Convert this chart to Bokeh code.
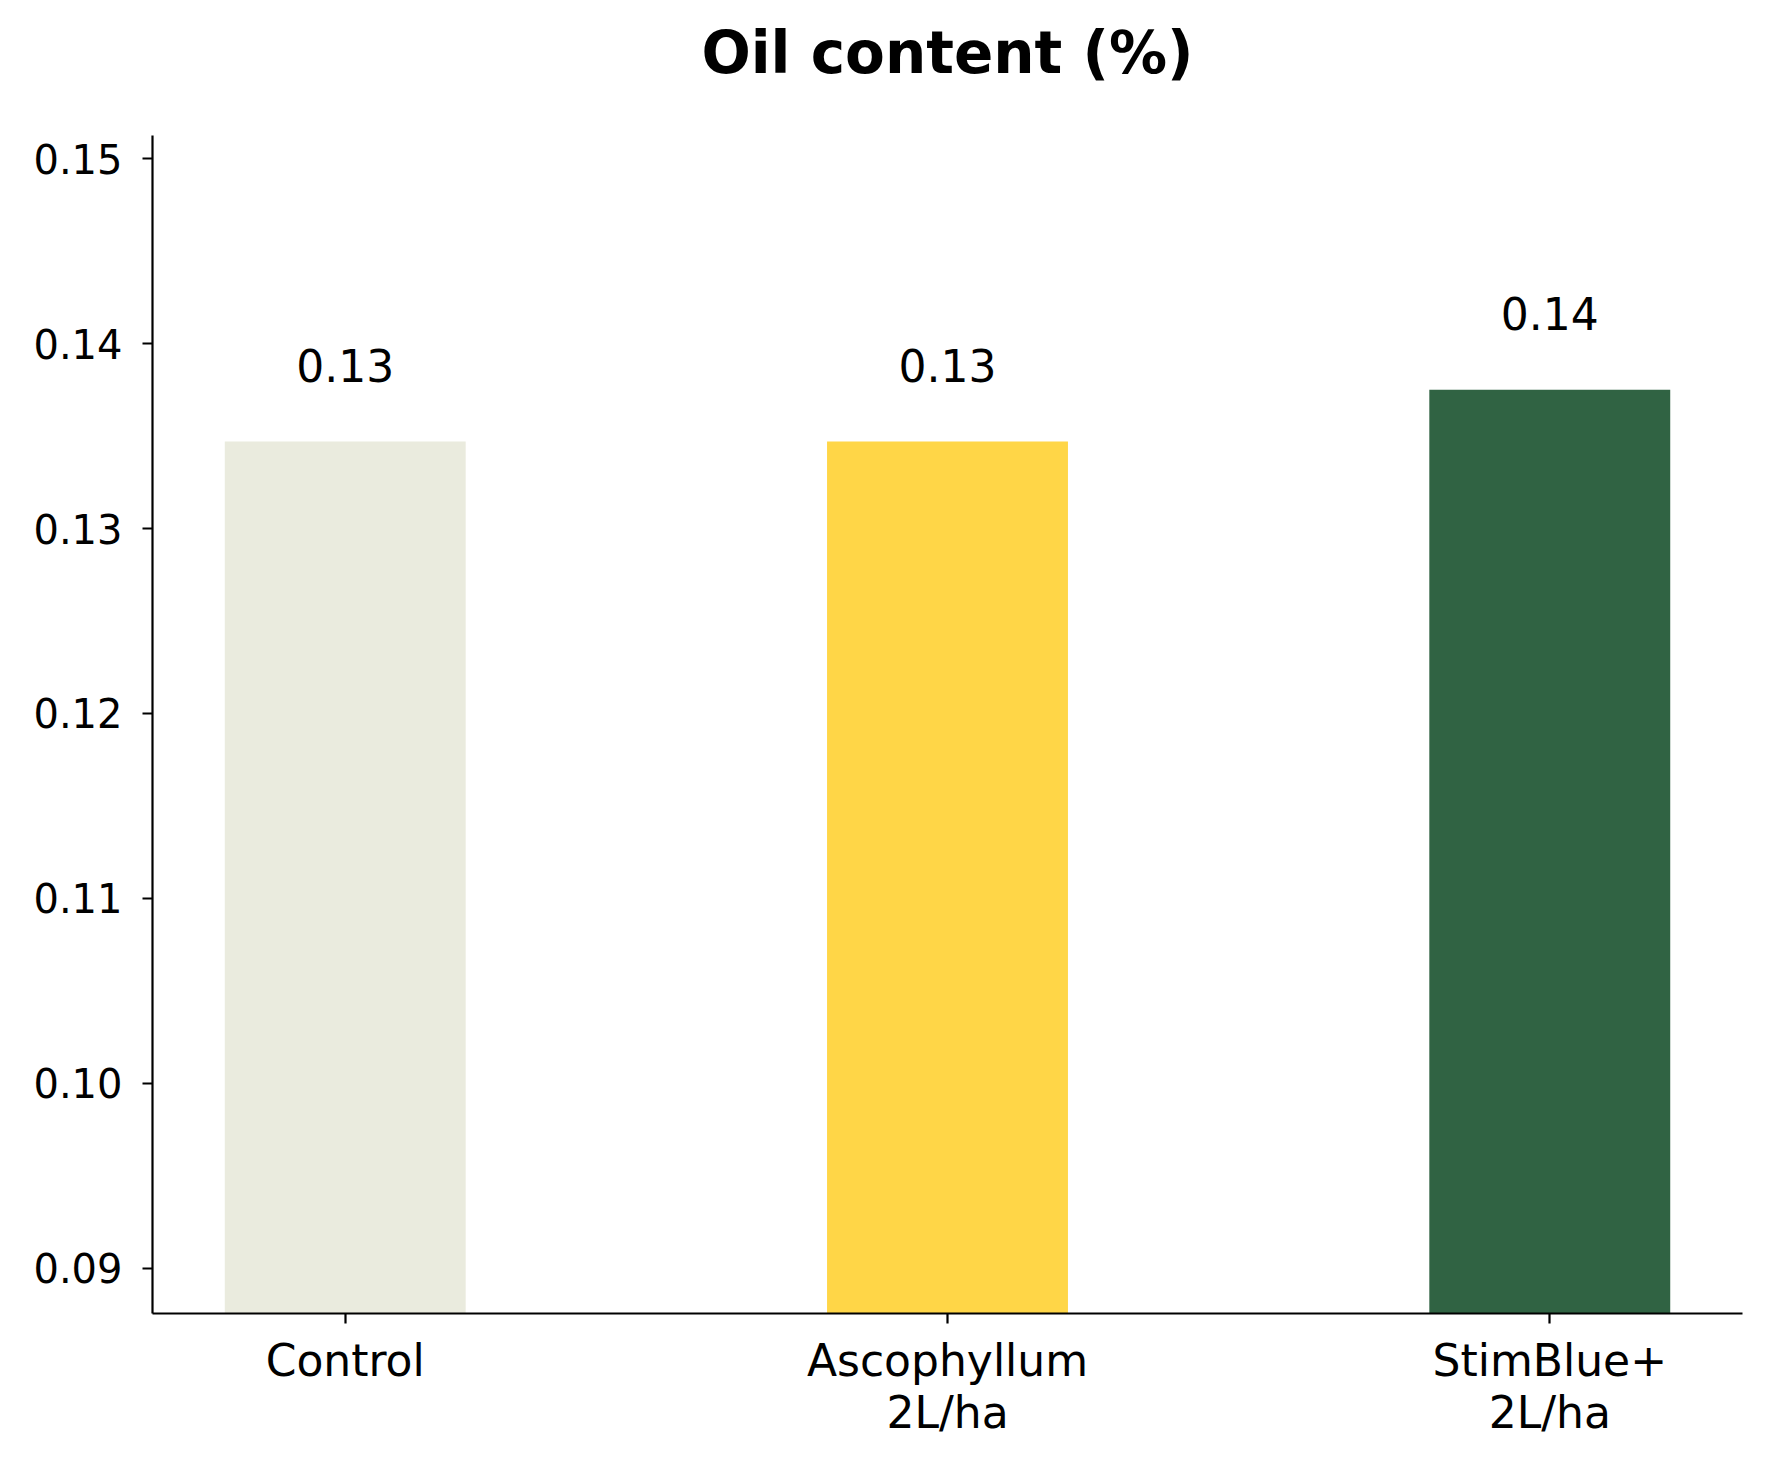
from bokeh.plotting import figure
from bokeh.models import Range1d, FixedTicker, PrintfTickFormatter, ColumnDataSource
from bokeh.core.properties import value
from bokeh.embed import file_html
from bokeh.resources import INLINE

title_text = "Oil content (%)"
categories = ["Control", "Ascophyllum\n2L/ha", "StimBlue+\n2L/ha"]
values = [0.1347, 0.1347, 0.1375]
value_labels = ["0.13", "0.13", "0.14"]
colors = ["#EAEBDE", "#FFD647", "#306343"]
y_ticks = [0.09, 0.10, 0.11, 0.12, 0.13, 0.14, 0.15]

y_start = min(values) * 0.65
y_end = max(values) * 1.1
xs = list(range(len(categories)))

FONT = "DejaVu Sans"
W, H = 1761, 1461
AXES_TOP, AXES_BOTTOM, AXES_LEFT, AXES_RIGHT = 135, 1313, 152, 1742
B_TOP = 10
# extend the frame upward (room for the title) while keeping the axes scale
y_top = y_start + (y_end - y_start) * (AXES_BOTTOM - B_TOP) / (AXES_BOTTOM - AXES_TOP)

src = ColumnDataSource(dict(x=xs, top=values, color=colors, label=value_labels,
                            bottom=[y_start] * len(values)))

p = figure(width=W, height=H, output_backend="svg", toolbar_location=None,
           x_range=Range1d(-0.32, 2.32), y_range=Range1d(y_start, y_top),
           min_border_left=AXES_LEFT, min_border_right=W - AXES_RIGHT,
           min_border_top=B_TOP, min_border_bottom=H - AXES_BOTTOM)
p.background_fill_color = "white"
p.border_fill_color = "white"
p.outline_line_color = None
p.xgrid.visible = False
p.ygrid.visible = False

p.vbar(x="x", top="top", bottom="bottom", width=0.4, color="color", source=src, line_color=None)
p.text(x="x", y="top", text="label", source=src, text_align="center",
       text_baseline="alphabetic", y_offset=-76, text_font=value(FONT),
       text_font_size="44px", text_color="black")

# title, centred over the axes, above the top of the y spine
p.text(x=[sum(xs) / len(xs)], y=[y_end], text=[title_text], text_align="center",
       text_baseline="alphabetic", y_offset=-83, text_font=value(FONT),
       text_font_size="58px", text_font_style="bold", text_color="black")

for ax in (p.xaxis[0], p.yaxis[0]):
    ax.axis_line_width = 2.2
    ax.axis_line_color = "black"
    ax.major_tick_line_width = 2.2
    ax.major_tick_line_color = "black"
    ax.major_tick_out = 10
    ax.major_tick_in = 0
    ax.minor_tick_line_color = None
    ax.major_label_text_font = FONT
    ax.major_label_text_color = "black"

p.yaxis.bounds = (y_start, y_end)
p.xaxis.major_label_text_font_size = "44px"
p.xaxis.major_label_text_line_height = 1.03
p.yaxis.major_label_text_font_size = "40px"
p.xaxis.ticker = FixedTicker(ticks=xs)
p.xaxis.major_label_overrides = {i: c for i, c in zip(xs, categories)}
p.xaxis.major_label_standoff = 11
p.yaxis.ticker = FixedTicker(ticks=y_ticks)
p.yaxis.formatter = PrintfTickFormatter(format="%.2f")
p.yaxis.major_label_standoff = 20

open("out.html", "w").write(file_html(p, INLINE))
